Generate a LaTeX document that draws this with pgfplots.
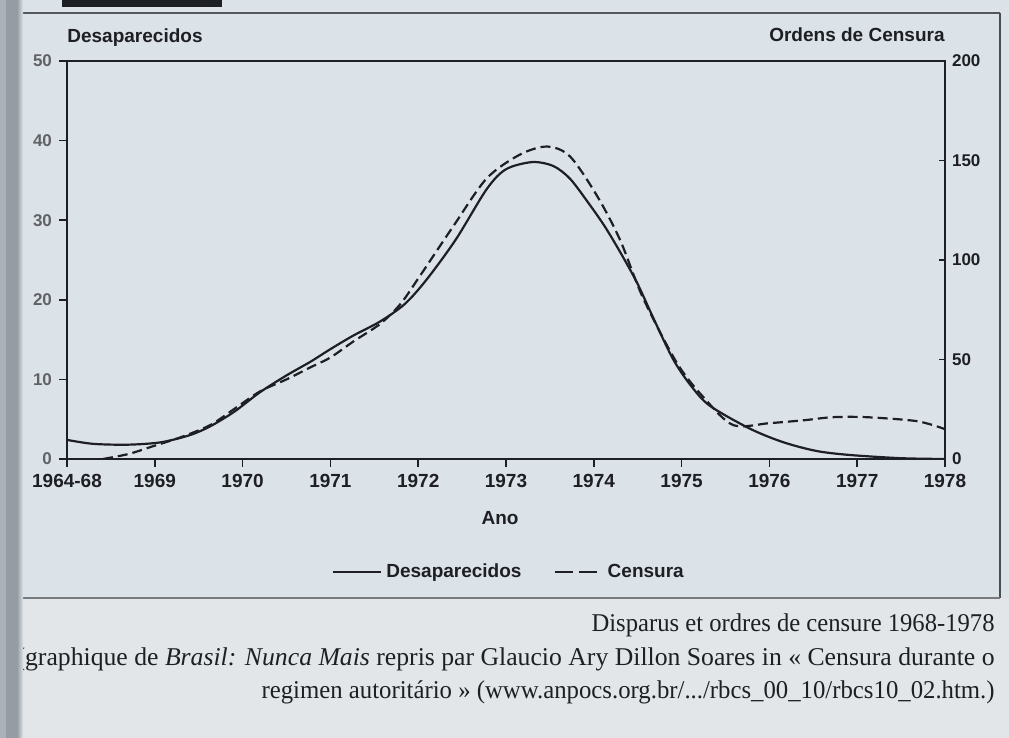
\documentclass[border=0pt]{standalone}
\usepackage{fontspec}
\setmainfont{Liberation Serif}
\newfontfamily\chartfont{Liberation Sans}
\usepackage{graphicx}
\usepackage{pgfplots}
\pgfplotsset{compat=1.18}
\definecolor{paper}{HTML}{DCE3E8}
\definecolor{paperlow}{HTML}{E2E6E8}
\definecolor{ink}{HTML}{1E1F24}
\definecolor{gutter}{HTML}{959CA3}
\begin{document}
\begin{tikzpicture}[x=1pt,y=1pt]
\useasboundingbox (0,0) rectangle (504.5,369);
% paper
\fill[paper] (0,0) rectangle (504.5,369);
\fill[paperlow] (0,0) rectangle (504.5,69.5);
% chart frame
\draw[ink!75, line width=1.3pt] (11,362.5) -- (500,362.5);
\draw[ink!80, line width=0.6pt] (500,362.5) -- (500,70);
\draw[ink!60, line width=1pt] (11,70) -- (500,70);
% cut-off banner underline
\fill[ink] (31,365.5) rectangle (111,369);

\begin{axis}[
  at={(33.5pt,139.5pt)}, anchor=south west,
  scale only axis, width=439pt, height=199pt,
  xmin=0, xmax=10, ymin=0, ymax=50,
  xtick={0,...,10},
  xticklabels={1964-68,1969,1970,1971,1972,1973,1974,1975,1976,1977,1978},
  ytick={0,10,20,30,40,50},
  xtick pos=bottom, ytick pos=left,
  tick align=outside, major tick length=4pt,
  axis line style={ink, line width=1pt},
  tick style={ink, line width=0.8pt},
  xticklabel style={font=\chartfont\bfseries\fontsize{9.5}{11}\selectfont, text=ink},
  yticklabel style={font=\chartfont\bfseries\fontsize{8.5}{10}\selectfont, text=ink!70},
  /pgf/number format/assume math mode=true,
  legend style={at={(0.5045,-0.284)}, anchor=center, draw=none, fill=none,
    legend columns=2, font=\chartfont\bfseries\fontsize{9.5}{11}\selectfont, text=ink,
    /tikz/every even column/.append style={column sep=14pt}},
  legend image code/.code={\draw[#1] (0pt,0pt) -- (24pt,0pt);},
]
\addplot[ink, line width=1.1pt, smooth] coordinates {
(0,2.4) (0.3,1.9) (0.7,1.8) (1.07,2.1) (1.4,3.0) (1.63,4.1) (1.9,5.9) (2.2,8.4)
(2.5,10.5) (2.77,12.2) (3.0,13.8) (3.26,15.5) (3.57,17.3) (3.85,19.5) (4.1,22.6)
(4.43,27.6) (4.78,33.9) (5.0,36.4) (5.3,37.3) (5.54,36.8) (5.73,35.2) (5.93,32.3)
(6.12,29.3) (6.3,26) (6.49,22.2) (6.67,17.9) (6.9,12.6) (7.1,9.3) (7.32,6.7)
(7.78,3.8) (8.16,2.1) (8.54,1.0) (8.92,0.5) (9.5,0.1) (10,0)
};
\addlegendentry{Desaparecidos}
\addlegendimage{ink, line width=1.1pt, dash pattern=on 9pt off 3pt}
\addlegendentry{Censura}
\end{axis}

\begin{axis}[
  at={(33.5pt,139.5pt)}, anchor=south west,
  scale only axis, width=439pt, height=199pt,
  xmin=0, xmax=10, ymin=0, ymax=200,
  axis x line=none, axis y line*=right,
  ytick={0,50,100,150,200},
  tick align=inside, major tick length=3pt,
  axis line style={ink, line width=1pt},
  tick style={ink, line width=0.8pt},
  yticklabel style={font=\chartfont\bfseries\fontsize{8.5}{10}\selectfont, text=ink},
  /pgf/number format/assume math mode=true,
]
\addplot[ink, line width=1.1pt, smooth, dash pattern=on 5pt off 2.5pt] coordinates {
(0.41,0) (0.7,2.5) (0.95,6) (1.3,11) (1.63,17) (1.9,25) (2.2,34) (2.5,40) (2.77,46)
(3.0,51) (3.26,59) (3.57,68) (3.8,78) (4.02,92) (4.4,117) (4.78,141) (5.16,153)
(5.47,157) (5.73,152) (6.04,132) (6.3,110) (6.56,81) (6.95,48) (7.27,30) (7.59,17)
(8.0,18) (8.4,19.5) (8.72,21) (9.11,21) (9.68,19) (10,15)
};
\end{axis}

% chart texts
\node[anchor=west, inner sep=0, font=\chartfont\bfseries\fontsize{9.5}{11}\selectfont, text=ink] at (33.5,350) {Desaparecidos};
\node[anchor=east, inner sep=0, font=\chartfont\bfseries\fontsize{9.5}{11}\selectfont, text=ink] at (472.5,351.5) {Ordens de Censura};
\node[inner sep=0, font=\chartfont\bfseries\fontsize{9.5}{11}\selectfont, text=ink] at (250,110) {Ano};

% caption
\node[anchor=base east, inner sep=0, font=\fontsize{12.8}{15}\selectfont, text=ink] at (497.5,53)
  {\resizebox{201.5pt}{\height}{Disparus et ordres de censure 1968-1978}};
\node[anchor=base east, inner sep=0, font=\fontsize{12.8}{15}\selectfont, text=ink] at (497.5,36)
  {\resizebox{489pt}{\height}{(graphique de \textit{Brasil: Nunca Mais} repris par Glaucio Ary Dillon Soares in « Censura durante o}};
\node[anchor=base east, inner sep=0, font=\fontsize{12.8}{15}\selectfont, text=ink] at (497.5,19.5)
  {\resizebox{366.5pt}{\height}{regimen autoritário » (www.anpocs.org.br/.../rbcs\_00\_10/rbcs10\_02.htm.)}};

% book gutter
\fill[gutter!70!paper] (0,0) rectangle (3,369);
\fill[gutter] (3,0) rectangle (8.5,369);
\shade[left color=gutter, right color=paper] (8.5,0) rectangle (11.5,369);
\end{tikzpicture}
\end{document}
